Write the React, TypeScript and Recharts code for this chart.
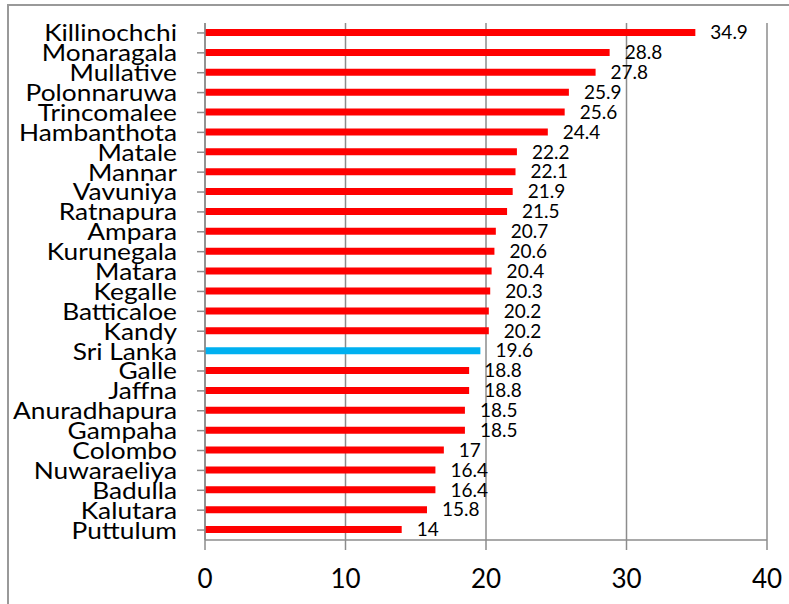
import React from "react";
import { BarChart, Bar, XAxis, YAxis, CartesianGrid, Cell, LabelList } from "recharts";

// ── Data ────────────────────────────────────────────────────────────────────
const districts = [
  "Killinochchi", "Monaragala", "Mullative", "Polonnaruwa", "Trincomalee",
  "Hambanthota", "Matale", "Mannar", "Vavuniya", "Ratnapura", "Ampara",
  "Kurunegala", "Matara", "Kegalle", "Batticaloe", "Kandy", "Sri Lanka",
  "Galle", "Jaffna", "Anuradhapura", "Gampaha", "Colombo", "Nuwaraeliya",
  "Badulla", "Kalutara", "Puttulum",
];
const rates = [
  34.9, 28.8, 27.8, 25.9, 25.6, 24.4, 22.2, 22.1, 21.9, 21.5, 20.7,
  20.6, 20.4, 20.3, 20.2, 20.2, 19.6, 18.8, 18.8, 18.5, 18.5, 17,
  16.4, 16.4, 15.8, 14,
];
const national = "Sri Lanka";
const xTicks = [0, 10, 20, 30, 40];

const data = districts.map((name, i) => ({ name, value: rates[i] }));

// ── Styles ──────────────────────────────────────────────────────────────────
const FONT = "Lato, 'Open Sans', sans-serif";
const GRID = "#8c8c8c";
const RED = "#ff0000";
const BLUE = "#00b0f0";

// category names are large and set slightly wide
const DistrictTick = ({ x, y, payload }: any) => (
  <g transform={`translate(${x},${y})`}>
    <text
      transform="scale(1.12,1)"
      textAnchor="end"
      dy="0.36em"
      fill="#000"
      fontSize={23.5}
      fontFamily={FONT}
    >
      {payload.value}
    </text>
  </g>
);

export default function App() {
  return (
    <div style={{ position: "absolute", left: 0, top: 0, width: 789, height: 604, background: "#fff", overflow: "hidden" }}>
      {/* outer chart frame, runs off the right/bottom edge */}
      <div style={{
        position: "absolute", left: 7, top: 4, width: 800, height: 620,
        borderLeft: "2px solid #999", borderTop: "2px solid #999",
      }} />
      <div style={{ position: "absolute", left: 0, top: 0 }}>
        <BarChart
          width={789}
          height={604}
          data={data}
          layout="vertical"
          margin={{ top: 23, right: 22, left: 0, bottom: 0 }}
        >
          <CartesianGrid horizontal={false} stroke={GRID} strokeWidth={1.5} />
          <XAxis
            type="number"
            domain={[0, 40]}
            ticks={xTicks}
            height={64}
            tickSize={10}
            tickMargin={20}
            stroke={GRID}
            strokeWidth={1.5}
            tick={{ fill: "#000", fontSize: 26, fontFamily: FONT }}
          />
          <YAxis
            type="category"
            dataKey="name"
            width={205}
            interval={0}
            tickSize={8}
            tickMargin={20}
            stroke={GRID}
            strokeWidth={1.5}
            tick={<DistrictTick />}
          />
          <Bar dataKey="value" barSize={7} isAnimationActive={false}>
            {data.map((d) => (
              <Cell key={d.name} fill={d.name === national ? BLUE : RED} />
            ))}
            <LabelList
              dataKey="value"
              position="right"
              offset={15}
              style={{ fill: "#000", fontSize: 19, fontFamily: FONT }}
            />
          </Bar>
        </BarChart>
      </div>
    </div>
  );
}
